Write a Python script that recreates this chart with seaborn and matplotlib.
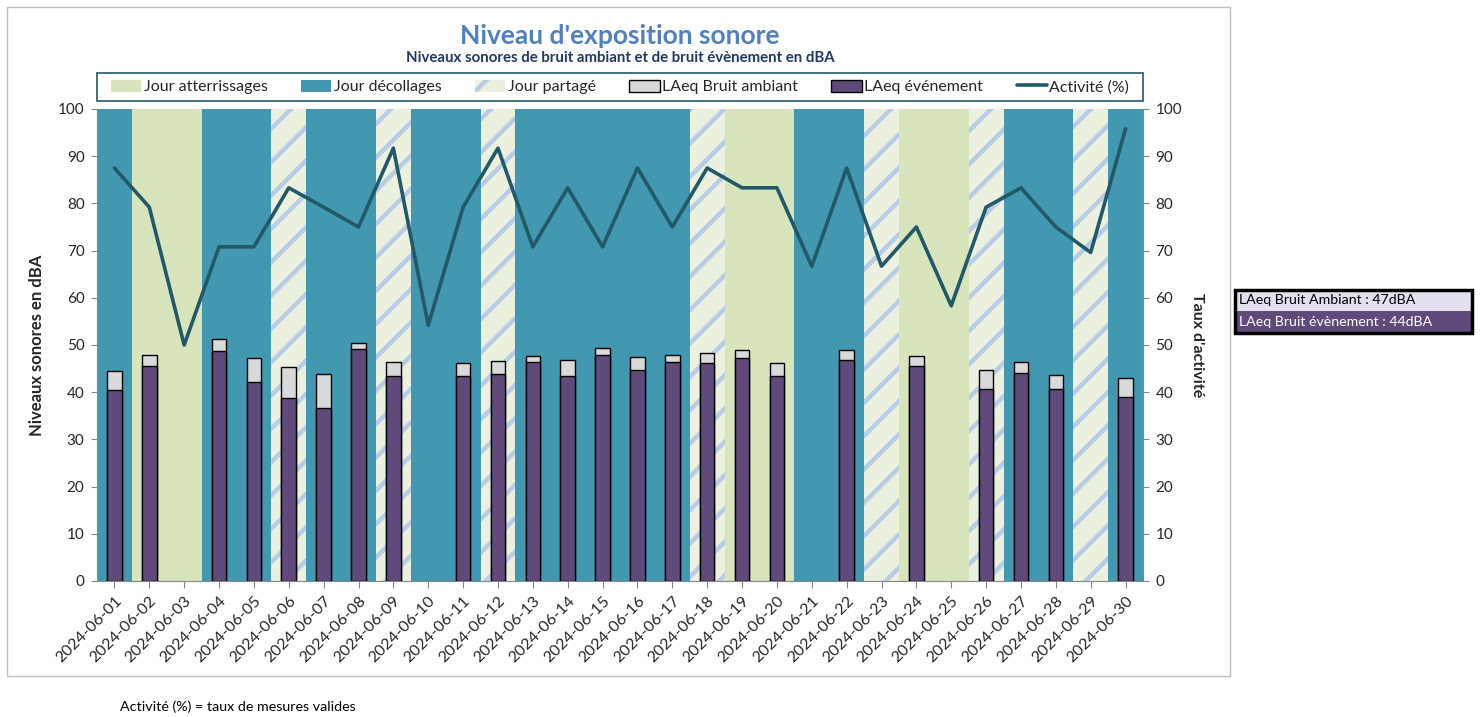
import numpy as np
import pandas as pd
import matplotlib
matplotlib.use("Agg")
import matplotlib.pyplot as plt
from matplotlib.patches import Patch, Rectangle
from matplotlib.lines import Line2D
import seaborn as sns

nan = np.nan
dates = ["2024-06-01", "2024-06-02", "2024-06-03", "2024-06-04", "2024-06-05",
         "2024-06-06", "2024-06-07", "2024-06-08", "2024-06-09", "2024-06-10",
         "2024-06-11", "2024-06-12", "2024-06-13", "2024-06-14", "2024-06-15",
         "2024-06-16", "2024-06-17", "2024-06-18", "2024-06-19", "2024-06-20",
         "2024-06-21", "2024-06-22", "2024-06-23", "2024-06-24", "2024-06-25",
         "2024-06-26", "2024-06-27", "2024-06-28", "2024-06-29", "2024-06-30"]
# D = décollages, A = atterrissages, P = partagé
day_type = ["D", "A", "A", "D", "D", "P", "D", "D", "P", "D",
            "D", "P", "D", "D", "D", "D", "D", "P", "A", "A",
            "D", "D", "P", "A", "A", "P", "D", "D", "P", "D"]
laeq_ambient = [44.5, 47.9, nan, 51.2, 47.2, 45.4, 43.9, 50.4, 46.4, nan,
                46.2, 46.7, 47.6, 46.9, 49.4, 47.5, 47.8, 48.2, 48.9, 46.2,
                nan, 48.9, nan, 47.6, nan, 44.6, 46.3, 43.6, nan, 43.0]
laeq_event = [40.5, 45.6, nan, 48.8, 42.2, 38.7, 36.6, 49.2, 43.4, nan,
              43.4, 43.9, 46.4, 43.4, 47.9, 44.6, 46.3, 46.2, 47.2, 43.4,
              nan, 46.8, nan, 45.6, nan, 40.6, 44.1, 40.7, nan, 39.0]
activity = [87.5, 79.2, 50.0, 70.8, 70.8, 83.3, 79.2, 75.0, 91.7, 54.2,
            79.2, 91.7, 70.8, 83.3, 70.8, 87.5, 75.0, 87.5, 83.3, 83.3,
            66.7, 87.5, 66.7, 75.0, 58.3, 79.2, 83.3, 75.0, 69.6, 95.8]
mean_ambient = 47
mean_event = 44

legend_labels = ["Jour atterrissages", "Jour décollages", "Jour partagé",
                 "LAeq Bruit ambiant", "LAeq événement", "Activité (%)"]

C_TEAL = "#4198B0"
C_GREEN = "#D8E4BC"
C_HATCH_BG = "#EBF1DE"
C_HATCH = "#B8CCE6"
C_GRAY = "#D9D9D9"
C_PURPLE = "#604A7B"
C_LINE = "#215968"

sns.set_style("ticks")
plt.rcParams["font.family"] = ["Lato", "DejaVu Sans"]
plt.rcParams["hatch.linewidth"] = 3.2
plt.rcParams["hatch.color"] = C_HATCH

W, H = 1481, 717
fig = plt.figure(figsize=(W / 100, H / 100), dpi=100)
fig.patch.set_facecolor("white")

# outer chart border
fig.add_artist(Rectangle((7 / W, 1 - 676 / H), (1230 - 7) / W, (676 - 7) / H,
                         transform=fig.transFigure, fill=False,
                         edgecolor="#BFBFBF", linewidth=1.0))

left, right, top, bottom = 97, 1143, 109, 581
ax = fig.add_axes([left / W, 1 - bottom / H, (right - left) / W, (bottom - top) / H])

# background day-type spans
for i, t in enumerate(day_type):
    if t == "D":
        ax.axvspan(i - 0.5, i + 0.5, facecolor=C_TEAL, edgecolor="none", zorder=0)
    elif t == "A":
        ax.axvspan(i - 0.5, i + 0.5, facecolor=C_GREEN, edgecolor="none", zorder=0)
    else:
        ax.axvspan(i - 0.5, i + 0.5, facecolor=C_HATCH_BG, edgecolor=C_HATCH,
                   hatch="/", linewidth=0, zorder=0)

df = pd.DataFrame({"date": dates, "ambient": laeq_ambient, "event": laeq_event})
sns.barplot(data=df, x="date", y="ambient", order=dates, color=C_GRAY,
            saturation=1, width=0.42, edgecolor="black", linewidth=1.0,
            ax=ax, zorder=2, err_kws={"linewidth": 0})
sns.barplot(data=df, x="date", y="event", order=dates, color=C_PURPLE,
            saturation=1, width=0.42, edgecolor="black", linewidth=1.0,
            ax=ax, zorder=3, err_kws={"linewidth": 0})

ax.set_xlim(-0.5, len(dates) - 0.5)
ax.set_ylim(0, 100)
ax.set_yticks(range(0, 101, 10))
ax.set_xticks(range(len(dates)))
ax.set_xticklabels(dates, rotation=45, ha="right", rotation_mode="anchor", fontsize=11.5)
ax.tick_params(axis="y", labelsize=11, length=4, color="#868686", pad=5)
ax.tick_params(axis="x", length=5, color="#868686", pad=4)
ax.set_xlabel("")
ax.set_ylabel("Niveaux sonores en dBA", fontsize=12, fontweight="bold", labelpad=9)
for s in ["top", "right"]:
    ax.spines[s].set_visible(False)
for s in ["left", "bottom"]:
    ax.spines[s].set_color("#868686")

ax2 = ax.twinx()
ax2.set_zorder(ax.get_zorder() + 1)
ax2.patch.set_visible(False)
sns.lineplot(x=np.arange(len(dates)), y=activity, color=C_LINE, linewidth=2.6, ax=ax2)
ax2.set_ylim(0, 100)
ax2.set_xlim(-0.5, len(dates) - 0.5)
ax2.set_yticks(range(0, 101, 10))
ax2.tick_params(axis="y", labelsize=11, length=4, color="#868686", pad=5)
ax2.set_ylabel("Taux d'activité", fontsize=11.5, fontweight="bold", rotation=-90, labelpad=16)
for s in ["top", "left", "bottom"]:
    ax2.spines[s].set_visible(False)
ax2.spines["right"].set_color("#868686")

# titles
cx = (left + right) / 2 / W
fig.text(cx, 1 - 36 / H, "Niveau d'exposition sonore", ha="center", va="center",
         fontsize=19, fontweight="bold", color="#4F81BD")
fig.text(cx, 1 - 58 / H, "Niveaux sonores de bruit ambiant et de bruit évènement en dBA",
         ha="center", va="center", fontsize=10.8, fontweight="bold", color="#1F3864")

# legend
handles = [
    Patch(facecolor=C_GREEN, edgecolor="none"),
    Patch(facecolor=C_TEAL, edgecolor="none"),
    Patch(facecolor=C_HATCH_BG, edgecolor=C_HATCH, hatch="/", linewidth=0),
    Patch(facecolor=C_GRAY, edgecolor="black"),
    Patch(facecolor=C_PURPLE, edgecolor="black"),
    Line2D([0], [0], color=C_LINE, linewidth=2.6),
]
fig.add_artist(Rectangle((left / W, 1 - 101 / H), (right - left) / W, 28 / H,
                         transform=fig.transFigure, fill=False,
                         edgecolor=C_LINE, linewidth=1.2))
leg = fig.legend(handles, legend_labels, loc="center", ncol=6,
                 bbox_to_anchor=((left + right) / 2 / W, 1 - 87 / H),
                 fontsize=11.5, frameon=False, handlelength=1.9,
                 handleheight=0.8, handletextpad=0.15, borderaxespad=0, borderpad=0,
                 columnspacing=2.1)

# side summary box
bx0, bx1, by0, by1 = 1235, 1472, 290, 333
mid = 311
fig.add_artist(Rectangle((bx0 / W, 1 - mid / H), (bx1 - bx0) / W, (mid - by0) / H,
                         transform=fig.transFigure, facecolor="#E4DFEC", edgecolor="none"))
fig.add_artist(Rectangle((bx0 / W, 1 - by1 / H), (bx1 - bx0) / W, (by1 - mid) / H,
                         transform=fig.transFigure, facecolor=C_PURPLE, edgecolor="none"))
fig.add_artist(Rectangle((bx0 / W, 1 - by1 / H), (bx1 - bx0) / W, (by1 - by0) / H,
                         transform=fig.transFigure, fill=False, edgecolor="black", linewidth=2.5))
fig.text((bx0 + 4) / W, 1 - 300.5 / H, f"LAeq Bruit Ambiant : {mean_ambient}dBA",
         ha="left", va="center", fontsize=10.2, color="black")
fig.text((bx0 + 4) / W, 1 - 321.5 / H, f"LAeq Bruit évènement : {mean_event}dBA",
         ha="left", va="center", fontsize=10.2, color="white")

fig.text(120 / W, 1 - 707 / H, "Activité (%) = taux de mesures valides",
         ha="left", va="center", fontsize=10.3, color="black")

fig.savefig("out.png", dpi=100)
